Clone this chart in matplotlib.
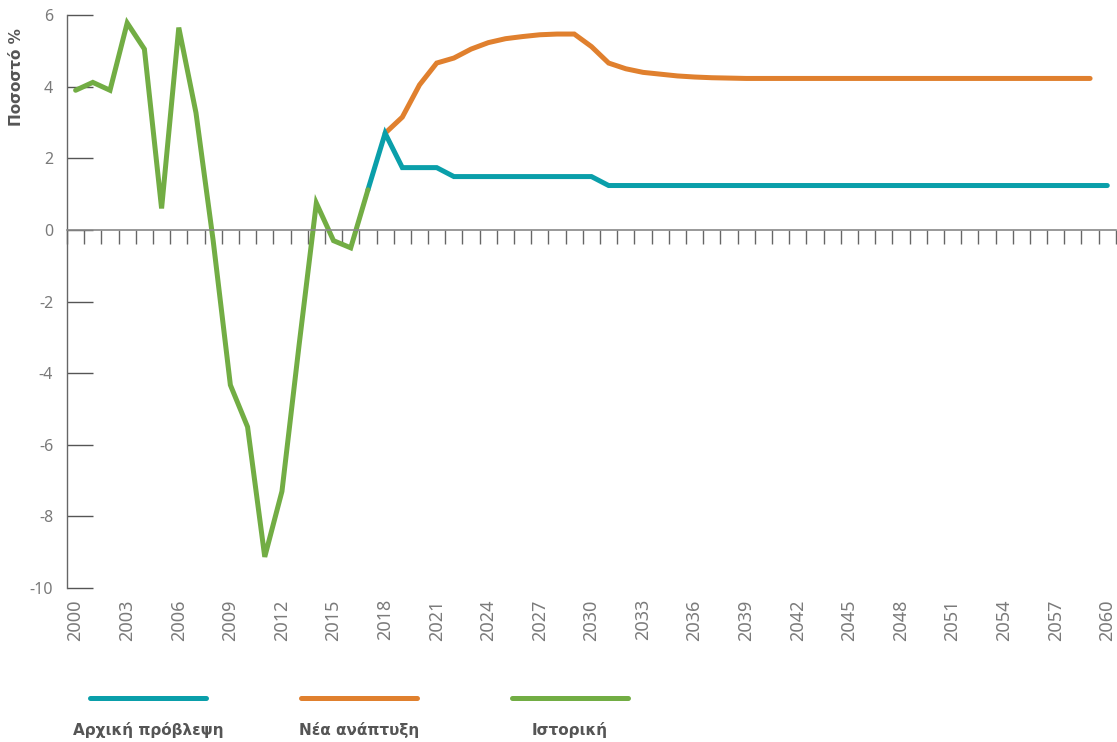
import numpy as np
import matplotlib.pyplot as plt
from matplotlib.lines import Line2D

plt.rcParams['font.family'] = ['Noto Sans', 'DejaVu Sans']

# Ιστορικά στοιχεία (2000-2017)
hist_years = list(range(2000, 2018))
hist = [3.9, 4.12, 3.9, 5.78, 5.05, 0.6, 5.65, 3.27, -0.3, -4.33, -5.5, -9.13, -7.3,
        -3.2, 0.75, -0.3, -0.5, 1.12]

# Αρχική πρόβλεψη (2017-2060)
base_years = list(range(2017, 2061))
base = [1.12, 2.7, 1.74, 1.74, 1.74,
        1.49, 1.49, 1.49, 1.49, 1.49, 1.49, 1.49, 1.49, 1.49,
        1.24, 1.24, 1.24, 1.24, 1.24, 1.24, 1.24, 1.24, 1.24, 1.24,
        1.24, 1.24, 1.24, 1.24, 1.24, 1.24, 1.24, 1.24, 1.24, 1.24,
        1.24, 1.24, 1.24, 1.24, 1.24, 1.24, 1.24, 1.24, 1.24, 1.24]

# Νέα ανάπτυξη (2018-2059)
new_years = list(range(2018, 2060))
new = [2.7, 3.15, 4.05, 4.66, 4.8, 5.05, 5.23, 5.34, 5.4, 5.45, 5.47, 5.47, 5.12,
       4.66, 4.5, 4.4, 4.35, 4.3, 4.27, 4.25, 4.24,
       4.23, 4.23, 4.23, 4.23, 4.23, 4.23, 4.23, 4.23, 4.23, 4.23, 4.23,
       4.23, 4.23, 4.23, 4.23, 4.23, 4.23, 4.23, 4.23, 4.23, 4.23]

label_years = list(range(2000, 2061, 3))
y_ticks = [-10, -8, -6, -4, -2, 0, 2, 4, 6]

c_base = '#0a9faa'
c_new = '#e0802e'
c_hist = '#72ad44'
grey = '#7a7a7a'
dark = '#555555'

fig = plt.figure(figsize=(11.17, 7.42), dpi=100)
ax = fig.add_axes([0.060, 0.2075, 0.939, 0.7722])

lw = 3.6
ax.plot(new_years, new, color=c_new, lw=lw, solid_capstyle='round', solid_joinstyle='miter')
ax.plot(base_years, base, color=c_base, lw=lw, solid_capstyle='round', solid_joinstyle='miter')
ax.plot(hist_years, hist, color=c_hist, lw=lw, solid_capstyle='round', solid_joinstyle='miter')

ax.set_xlim(1999.5, 2060.5)
ax.set_ylim(-10, 6)

for s in ['top', 'right']:
    ax.spines[s].set_visible(False)
ax.spines['left'].set_color('#666666')
ax.spines['left'].set_linewidth(1.0)
ax.spines['bottom'].set_position(('data', 0))
ax.spines['bottom'].set_color('#888888')
ax.spines['bottom'].set_linewidth(1.2)

# ετήσιες υποδιαιρέσεις κάτω από τη γραμμή του μηδενός
ax.set_xticks(np.arange(1999.5, 2061, 1))
ax.tick_params(axis='x', direction='out', length=10, width=1, color='#666666',
               labelbottom=False)

ax.set_yticks(y_ticks)
ax.set_yticklabels([str(v) for v in y_ticks])
ax.tick_params(axis='y', direction='in', length=19, width=1, color='#555555',
               labelsize=11.5, labelcolor=grey, pad=10)

sec = ax.secondary_xaxis('bottom')
sec.set_xticks(label_years)
sec.set_xticklabels([str(y) for y in label_years])
sec.tick_params(length=0, pad=8, labelsize=13, labelcolor=grey, labelrotation=90)
sec.spines['bottom'].set_visible(False)

bold_font = ['DejaVu Sans']
fig.text(0.015, 0.896, 'Ποσοστό %', rotation=90, ha='center', va='center',
         fontsize=11, fontweight='bold', color=dark, family=bold_font)

# υπόμνημα
items = [('Αρχική πρόβλεψη', c_base, 148), ('Νέα ανάπτυξη', c_new, 359), ('Ιστορική', c_hist, 570)]
for name, col, cx in items:
    x0 = (cx - 58) / 1117
    x1 = (cx + 58) / 1117
    fig.add_artist(Line2D([x0, x1], [1 - 698 / 742, 1 - 698 / 742], color=col, lw=lw,
                          solid_capstyle='round', transform=fig.transFigure))
    fig.text(cx / 1117, 1 - 730 / 742, name, ha='center', va='center',
             fontsize=11, fontweight='bold', color=dark, family=bold_font)

fig.savefig('out.png', dpi=100)
